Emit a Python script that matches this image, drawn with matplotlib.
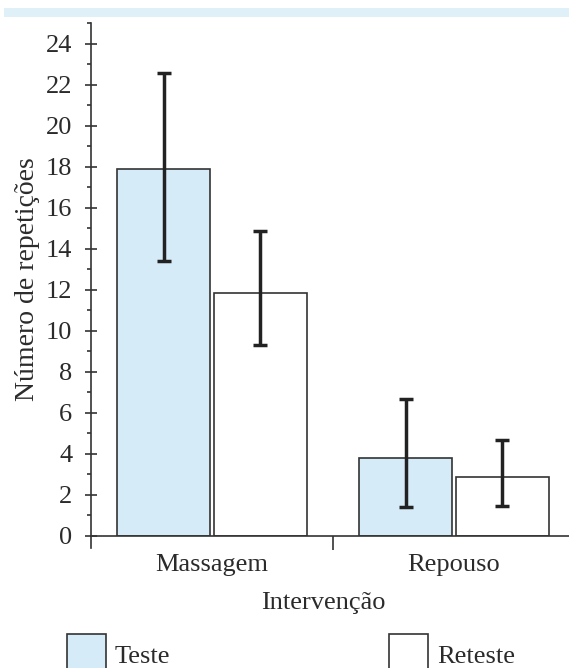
import matplotlib
matplotlib.use("Agg")
import numpy as np
import matplotlib.pyplot as plt
from matplotlib.patches import Rectangle
from matplotlib.ticker import MultipleLocator

# dados
categorias = ["Massagem", "Repouso"]
teste = [17.9, 3.77]
reteste = [11.84, 2.88]
teste_err_low = [13.4, 1.42]
teste_err_high = [22.56, 6.65]
reteste_err_low = [9.32, 1.44]
reteste_err_high = [14.86, 4.65]

plt.rcParams["font.family"] = ["Liberation Serif", "DejaVu Serif"]
fs = 19
text_color = "#2b2b2b"
azul = "#d6ebf8"

fig = plt.figure(figsize=(5.69, 6.68), dpi=100)
ax = fig.add_axes([0.16, 0.198, 0.8506, 0.7675])

x = np.arange(len(categorias))
w = 0.385
off = 0.2

t = np.array(teste)
r = np.array(reteste)
t_err = [t - np.array(teste_err_low), np.array(teste_err_high) - t]
r_err = [r - np.array(reteste_err_low), np.array(reteste_err_high) - r]

ax.bar(x - off, t, w, color=azul, edgecolor="#333333", linewidth=1.2, label="Teste")
ax.bar(x + off, r, w, color="white", edgecolor="#333333", linewidth=1.2, label="Reteste")
ax.errorbar(x - off, t, yerr=t_err, fmt="none", ecolor="#222222", elinewidth=2.5,
            capsize=5, capthick=2.5)
ax.errorbar(x + off, r, yerr=r_err, fmt="none", ecolor="#222222", elinewidth=2.5,
            capsize=5, capthick=2.5)

ax.set_xlim(-0.5, 1.5)
ax.set_ylim(0, 25)
ax.spines["top"].set_visible(False)
ax.spines["right"].set_visible(False)
ax.spines["left"].set_bounds(-0.6, 25)
for s in ["left", "bottom"]:
    ax.spines[s].set_color("#333333")
    ax.spines[s].set_linewidth(1.2)

ax.yaxis.set_minor_locator(MultipleLocator(1))
ax.set_yticks(range(0, 25, 2))
ax.tick_params(axis="y", which="major", direction="inout", length=9, width=1.2,
               colors="#333333", labelcolor=text_color, labelsize=fs, pad=9)
ax.tick_params(axis="y", which="minor", direction="out", length=3, width=1.2, colors="#333333")

ax.set_xticks([0.5])
ax.set_xticks(x, minor=True)
ax.set_xticklabels([])
ax.set_xticklabels(categorias, minor=True)
ax.tick_params(axis="x", which="major", direction="out", length=10, width=1.2, colors="#333333")
ax.tick_params(axis="x", which="minor", length=0, width=1.2, colors="#333333",
               labelcolor=text_color, labelsize=fs, pad=13)

ax.set_ylabel("Número de repetições", color=text_color, fontsize=fs + 1, labelpad=4)
ax.set_xlabel("Intervenção", color=text_color, fontsize=fs, labelpad=8)
ax.yaxis.set_label_coords(-0.106, 0.5)
ax.xaxis.set_label_coords(0.48, -0.11)

# faixa azul no topo
fig.patches.append(Rectangle((4 / 569, 1 - 17 / 668), 1, 9 / 668, transform=fig.transFigure,
                             facecolor="#dff0f8", edgecolor="none"))

fig.legend(loc="upper left", bbox_to_anchor=(0.1, 0.066), ncol=2, frameon=False,
           handlelength=1.45, handleheight=2.0, handletextpad=0.35, columnspacing=8.3,
           fontsize=fs, labelcolor=text_color, borderaxespad=0)

plt.savefig("out.png", dpi=100)
